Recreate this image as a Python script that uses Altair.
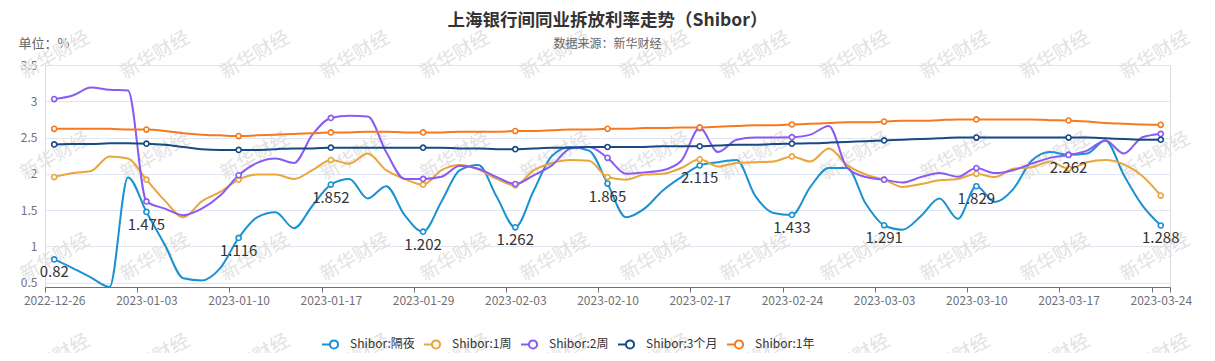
import json
import pandas as pd
import altair as alt

# ---------------- data ----------------
dates = [
    "2022-12-26", "2022-12-27", "2022-12-28", "2022-12-29", "2022-12-30",
    "2023-01-03", "2023-01-04", "2023-01-05", "2023-01-06", "2023-01-09",
    "2023-01-10", "2023-01-11", "2023-01-12", "2023-01-13", "2023-01-16",
    "2023-01-17", "2023-01-18", "2023-01-19", "2023-01-20", "2023-01-28",
    "2023-01-29", "2023-01-30", "2023-01-31", "2023-02-01", "2023-02-02",
    "2023-02-03", "2023-02-06", "2023-02-07", "2023-02-08", "2023-02-09",
    "2023-02-10", "2023-02-13", "2023-02-14", "2023-02-15", "2023-02-16",
    "2023-02-17", "2023-02-20", "2023-02-21", "2023-02-22", "2023-02-23",
    "2023-02-24", "2023-02-27", "2023-02-28", "2023-03-01", "2023-03-02",
    "2023-03-03", "2023-03-06", "2023-03-07", "2023-03-08", "2023-03-09",
    "2023-03-10", "2023-03-13", "2023-03-14", "2023-03-15", "2023-03-16",
    "2023-03-17", "2023-03-20", "2023-03-21", "2023-03-22", "2023-03-23",
    "2023-03-24",
]

overnight = [
    0.82, 0.70, 0.57, 0.44, 1.95,
    1.475, 1.02, 0.56, 0.53, 0.70,
    1.116, 1.40, 1.47, 1.25, 1.56,
    1.852, 1.93, 1.66, 1.83, 1.43,
    1.202, 1.62, 2.05, 2.12, 1.68,
    1.262, 1.77, 2.25, 2.37, 2.32,
    1.865, 1.40, 1.52, 1.77, 1.955,
    2.115, 2.16, 2.19, 1.70, 1.46,
    1.433, 1.82, 2.08, 2.08, 1.59,
    1.291, 1.23, 1.42, 1.66, 1.38,
    1.829, 1.61, 1.79, 2.18, 2.30,
    2.262, 2.28, 2.46, 1.98, 1.565,
    1.288,
]
week1 = [
    1.955, 2.01, 2.04, 2.24, 2.21,
    1.92, 1.63, 1.40, 1.62, 1.75,
    1.92, 1.99, 1.99, 1.93, 2.05,
    2.19, 2.14, 2.28, 2.05, 1.93,
    1.85, 2.05, 2.12, 2.06, 1.93,
    1.84, 2.05, 2.15, 2.19, 2.18,
    1.955, 1.92, 1.99, 2.00, 2.08,
    2.20, 2.10, 2.15, 2.16, 2.17,
    2.24, 2.17, 2.35, 2.12, 1.99,
    1.92, 1.82, 1.86, 1.91, 1.93,
    2.00, 1.955, 2.07, 2.09, 2.17,
    2.07, 2.16, 2.19, 2.13, 1.97,
    1.70,
]
week2 = [
    3.03, 3.08, 3.19, 3.16, 3.15,
    1.62, 1.52, 1.43, 1.52, 1.70,
    1.98, 2.15, 2.21, 2.15, 2.54,
    2.77, 2.80, 2.79, 2.30, 1.93,
    1.93, 1.96, 2.11, 2.07, 1.955,
    1.86, 1.98, 2.12, 2.35, 2.37,
    2.22, 2.00, 2.02, 2.05, 2.18,
    2.63, 2.30, 2.47, 2.50, 2.50,
    2.505, 2.54, 2.66, 2.08, 1.955,
    1.92, 1.88, 1.955, 2.01, 1.96,
    2.08, 2.01, 2.05, 2.14, 2.22,
    2.26, 2.32, 2.46, 2.28, 2.505,
    2.55,
]
month3 = [
    2.405, 2.41, 2.41, 2.42, 2.42,
    2.415, 2.40, 2.37, 2.34, 2.33,
    2.33, 2.33, 2.34, 2.35, 2.35,
    2.36, 2.36, 2.36, 2.36, 2.36,
    2.36, 2.36, 2.35, 2.35, 2.34,
    2.34, 2.35, 2.36, 2.36, 2.37,
    2.37, 2.37, 2.37, 2.38, 2.38,
    2.38, 2.39, 2.40, 2.40, 2.41,
    2.415, 2.42, 2.43, 2.44, 2.45,
    2.46, 2.47, 2.48, 2.49, 2.50,
    2.50, 2.50, 2.50, 2.50, 2.50,
    2.50, 2.50, 2.49, 2.48, 2.47,
    2.47,
]
year1 = [
    2.62, 2.62, 2.62, 2.62, 2.61,
    2.61, 2.59, 2.56, 2.54, 2.53,
    2.52, 2.53, 2.54, 2.55, 2.56,
    2.57, 2.57, 2.58, 2.58, 2.57,
    2.57, 2.57, 2.58, 2.58, 2.58,
    2.59, 2.59, 2.60, 2.61, 2.61,
    2.62, 2.62, 2.63, 2.63, 2.64,
    2.64, 2.65, 2.66, 2.67, 2.67,
    2.68, 2.69, 2.70, 2.71, 2.71,
    2.72, 2.73, 2.73, 2.74, 2.75,
    2.75, 2.75, 2.75, 2.75, 2.74,
    2.735, 2.72, 2.70, 2.69, 2.68,
    2.675,
]

series_names = ["Shibor:隔夜", "Shibor:1周", "Shibor:2周", "Shibor:3个月", "Shibor:1年"]
series_values = [overnight, week1, week2, month3, year1]
series_colors = ["#1a91d1", "#eaa53b", "#8a5bf2", "#174a85", "#f57a1f"]

y_ticks = [0.5, 1.0, 1.5, 2.0, 2.5, 3.0, 3.5]
x_label_dates = dates[::5]

# ---------------- build table ----------------
rows = []
for name, vals in zip(series_names, series_values):
    for i, (d, v) in enumerate(zip(dates, vals)):
        rows.append({"series": name, "idx": i, "date": d, "value": v,
                     "label": str(v), "order": series_names.index(name)})
df = pd.DataFrame(rows)

FONT = "'Microsoft YaHei', 'Noto Sans CJK SC', sans-serif"
PLOT_W, PLOT_H = 1125, 222
N = len(dates)
band = PLOT_W / N

label_expr = (f"datum.value > {N - 1} ? '' : "
              f"{json.dumps(x_label_dates)}[round((datum.value + 0.5) / 5)]")
y_label_expr = ("abs(datum.value - round(datum.value)) < 0.001 ? "
                "format(datum.value, 'd') : format(datum.value, '.1f')")

color_scale = alt.Scale(domain=series_names, range=series_colors)
legend_path = ("M-1,0L-0.34,0M0.34,0A0.34,0.34,0,1,1,-0.34,0"
               "A0.34,0.34,0,1,1,0.34,0Z")

x_enc = alt.X(
    "idx:Q",
    scale=alt.Scale(domain=[-0.5, N - 0.5], nice=False, zero=False),
    axis=alt.Axis(
        values=[i - 0.5 for i in range(0, N, 5)] + [N - 0.5],
        labelExpr=label_expr, labelOffset=band / 2, labelFlush=False,
        labelOverlap=False, grid=False, tickSize=5, tickColor="#6e7079",
        domainColor="#6e7079", labelColor="#6e7079", labelFontSize=12,
        labelPadding=3, title=None, labelFont=FONT,
    ),
)
y_enc = alt.Y(
    "value:Q",
    scale=alt.Scale(domain=[0.44, 3.5], nice=False, zero=False),
    axis=alt.Axis(
        values=y_ticks, labelExpr=y_label_expr, ticks=False, domain=False,
        labelOverlap=False, labelFlush=False,
        gridColor="#e0e6f1", labelColor="#6e7079", labelFontSize=12,
        labelPadding=8, labelFont=FONT,
        title="单位：%", titleAngle=0, titleX=-27, titleY=-18,
        titleAlign="left", titleBaseline="alphabetic", titleFontSize=13,
        titleFontWeight="normal", titleColor="#666666", titleFont=FONT,
    ),
)

base = alt.Chart(df)

lines = base.mark_line(strokeWidth=2, interpolate="monotone").encode(
    x=x_enc, y=y_enc,
    color=alt.Color(
        "series:N", scale=color_scale,
        legend=alt.Legend(
            title=None, orient="none", legendX=276, legendY=266,
            direction="horizontal", columns=5, symbolType=legend_path,
            symbolSize=576, symbolStrokeWidth=2, symbolFillColor="white",
            labelFontSize=12, labelColor="#333333", labelOffset=3,
            columnPadding=5, padding=0, labelFont=FONT,
        ),
    ),
    order="order:Q",
)

points = base.transform_filter("datum.idx % 5 == 0").mark_point(
    filled=False, fill="white", size=26, strokeWidth=1.6, opacity=1
).encode(
    x=x_enc, y=y_enc,
    color=alt.Color("series:N", scale=color_scale, legend=None),
)

labels = base.transform_filter(
    f"datum.idx % 5 == 0 && datum.series == '{series_names[0]}'"
).mark_text(baseline="top", dy=6, fontSize=15, color="#333333", font=FONT).encode(
    x=x_enc, y=y_enc, text="label:N",
)

data_layers = alt.layer(lines, points, labels).resolve_legend(color="independent")

# watermark grid (decorative)
wm = pd.DataFrame([
    {"wx": 10 + 100 * c, "wy": -10 + 101 * r, "t": "新华财经"}
    for r in range(4) for c in range(12)
])
watermark = alt.Chart(wm).mark_text(
    angle=330, fontSize=19, color="#e2e2e2", font=FONT
).encode(
    x=alt.X("wx:Q", scale=None, axis=None),
    y=alt.Y("wy:Q", scale=None, axis=None),
    text="t:N",
)

chart = alt.layer(watermark, data_layers).resolve_scale(
    x="independent", y="independent", color="independent"
).properties(
    width=PLOT_W, height=PLOT_H,
    padding={"left": 37, "top": 57, "right": 37, "bottom": 66},
    autosize=alt.AutoSizeParams(type="none"),
    title=alt.TitleParams(
        text="上海银行间同业拆放利率走势（Shibor）",
        subtitle="数据来源：新华财经",
        anchor="middle", frame="group", fontSize=17.5, fontWeight="bold",
        color="#333333", subtitleFontSize=12, subtitleColor="#666666",
        offset=14, subtitlePadding=10, font=FONT, subtitleFont=FONT, dy=36,
    ),
).configure_view(stroke=None).configure(background="white").configure_axisY(
    labelOverlap=False
)

chart.save("out.html", embed_options={"renderer": "svg", "actions": False})
